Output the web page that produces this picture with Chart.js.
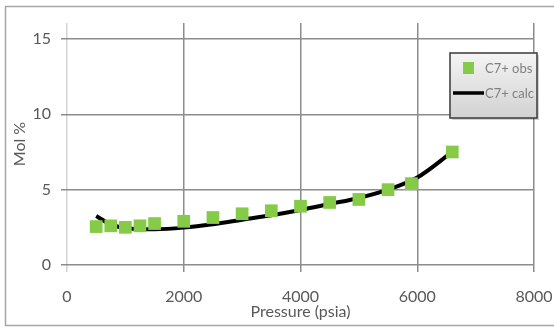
<!DOCTYPE html>
<html>
<head>
<meta charset="utf-8">
<script src="https://cdn.jsdelivr.net/npm/chart.js@4/dist/chart.umd.min.js"></script>
<style>
  html, body { margin: 0; padding: 0; background: #fff; }
  canvas { display: block; }
</style>
</head>
<body>
<canvas id="chart1" width="554" height="327"></canvas>
<script>
// pressure steps (psia) and C7+ mole percent
const pressure = [500, 750, 1000, 1250, 1500, 2000, 2500, 3000, 3500, 4000, 4500, 5000, 5500, 5900, 6600];
const c7Obs = [2.55, 2.6, 2.5, 2.6, 2.75, 2.9, 3.15, 3.4, 3.6, 3.9, 4.15, 4.35, 5.0, 5.4, 7.5];

const calcPressure = [500, 750, 1000, 1250, 1500, 2000, 2500, 3000, 3500, 4000, 4500, 5000, 5500, 6000, 6600];
const c7Calc = [3.25, 2.7, 2.45, 2.38, 2.38, 2.48, 2.7, 3.0, 3.3, 3.65, 4.05, 4.45, 5.0, 5.8, 7.5];

const yTicks = [0, 5, 10, 15];
const labelGray = '#595959';
const green = '#86cb48';

const obsPoints = pressure.map((p, i) => ({x: p, y: c7Obs[i]}));
const calcPoints = calcPressure.map((p, i) => ({x: p, y: c7Calc[i]}));

// white page plus the thin frame round the whole chart
const frame = {
  id: 'frame',
  beforeDraw(chart) {
    const ctx = chart.ctx;
    ctx.save();
    ctx.fillStyle = '#fff';
    ctx.fillRect(0, 0, chart.width, chart.height);
    ctx.strokeStyle = '#a6a6a6';
    ctx.lineWidth = 1.5;
    ctx.strokeRect(5.5, 6.5, 620, 319);
    ctx.restore();
  }
};

// boxed legend with a grey gradient, sitting inside the plot
const boxLegend = {
  id: 'boxLegend',
  afterDraw(chart) {
    const ctx = chart.ctx;
    const x = 450, y = 53, w = 87, h = 65;
    ctx.save();
    ctx.fillStyle = 'rgba(0,0,0,0.18)';
    ctx.fillRect(x + 2, y + 2, w, h);
    const g = ctx.createLinearGradient(0, y, 0, y + h);
    g.addColorStop(0, '#f4f4f4');
    g.addColorStop(1, '#d2d2d2');
    ctx.fillStyle = g;
    ctx.fillRect(x, y, w, h);
    ctx.strokeStyle = '#3a3a3a';
    ctx.lineWidth = 1.5;
    ctx.strokeRect(x, y, w, h);

    const ds = chart.data.datasets;
    ctx.font = '13px Lato';
    ctx.textBaseline = 'middle';
    ctx.textAlign = 'left';

    ctx.fillStyle = green;
    ctx.fillRect(463, 62, 11, 12);
    ctx.fillStyle = '#7f7f7f';
    ctx.fillText(ds[0].label, 485, 69);

    ctx.strokeStyle = '#000';
    ctx.lineWidth = 3.5;
    ctx.beginPath();
    ctx.moveTo(453, 93);
    ctx.lineTo(484, 93);
    ctx.stroke();
    ctx.fillText(ds[1].label, 485, 94);
    ctx.restore();
  }
};

const ctx1 = document.getElementById('chart1');
const c7Chart = new Chart(ctx1, {
  type: 'scatter',
  data: {
    datasets: [{
      label: 'C7+ obs',
      data: obsPoints,
      pointStyle: 'rect',
      pointRadius: 9,
      pointBorderWidth: 0,
      backgroundColor: green,
      borderColor: green,
      showLine: false,
      order: 1
    },
    {
      label: 'C7+ calc',
      data: calcPoints,
      showLine: true,
      borderColor: '#000',
      borderWidth: 4,
      pointRadius: 0,
      tension: 0.4,
      cubicInterpolationMode: 'monotone',
      fill: false,
      order: 2
    }]
  },
  options: {
    responsive: false,
    animation: false,
    devicePixelRatio: 1,
    layout: { padding: { left: 0, right: 0, top: 23, bottom: 0 } },
    plugins: {
      legend: { display: false },
      tooltip: { enabled: false }
    },
    scales: {
      x: {
        type: 'linear',
        min: 0,
        max: 8000,
        afterFit(scale) {
          scale.height = 62;
          scale.paddingLeft = 0;
          scale.paddingRight = 20;
        },
        ticks: {
          stepSize: 2000,
          color: labelGray,
          font: { family: 'Lato', size: 16 },
          padding: 15,
          maxRotation: 0,
          callback: v => String(v)
        },
        grid: {
          color: c => c.index === 0 ? '#d4d4d4' : '#8c8c8c',
          lineWidth: 1.5,
          tickLength: 7
        },
        border: { display: false },
        title: {
          display: true,
          text: 'Pressure (psia)',
          color: labelGray,
          font: { family: 'Lato', size: 16 },
          padding: { top: 0, bottom: 6 }
        }
      },
      y: {
        min: 0,
        max: 16.06,
        afterFit(scale) {
          scale.width = 67;
          scale.paddingTop = 0;
          scale.paddingBottom = 0;
        },
        afterBuildTicks(scale) { scale.ticks = yTicks.map(v => ({value: v})); },
        ticks: { color: labelGray, font: { family: 'Lato', size: 16 }, padding: 10 },
        grid: { color: '#8c8c8c', lineWidth: 1.5, tickLength: 6 },
        border: { display: false },
        title: {
          display: true,
          text: 'Mol %',
          color: labelGray,
          font: { family: 'Lato', size: 16 },
          padding: { top: 10, bottom: 0 }
        }
      }
    }
  },
  plugins: [frame, boxLegend]
});
</script>
</body>
</html>
